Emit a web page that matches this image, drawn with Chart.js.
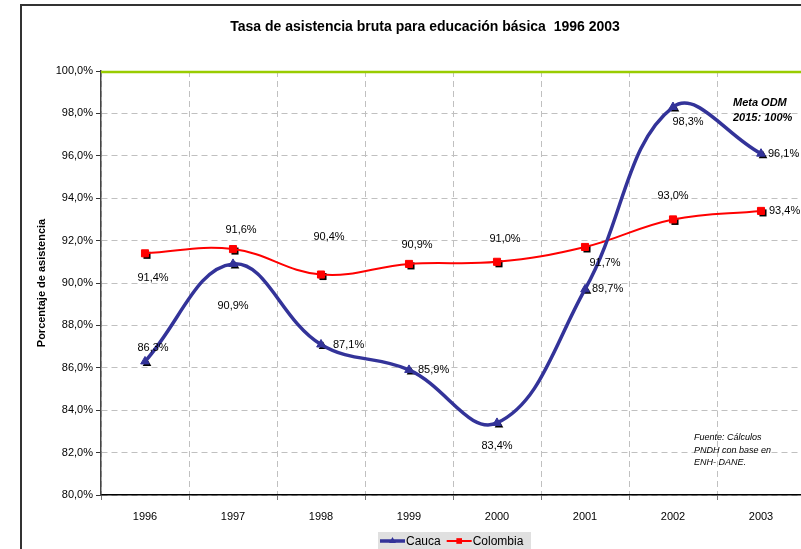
<!DOCTYPE html>
<html>
<head>
<meta charset="utf-8">
<script src="https://cdn.jsdelivr.net/npm/chart.js@4.4.0/dist/chart.umd.min.js"></script>
<style>
  html, body { margin: 0; padding: 0; overflow: hidden; background: #fff; }
</style>
</head>
<body>
<canvas id="asistencia" width="811" height="549"></canvas>
<script>
// datos
const years = ['1996', '1997', '1998', '1999', '2000', '2001', '2002', '2003'];
const cauca = [86.3, 90.9, 87.1, 85.9, 83.4, 89.7, 98.3, 96.1];
const colombia = [91.4, 91.6, 90.4, 90.9, 91.0, 91.7, 93.0, 93.4];
const yMin = 80;
const yMax = 100;
const yStep = 2;
const metaODM = 100;

const FONT = 'Arial, "Liberation Sans", sans-serif';
Chart.defaults.font.family = FONT;
Chart.defaults.font.size = 11;
Chart.defaults.color = '#000';

const fmt = v => v.toFixed(1).replace('.', ',') + '%';

// where each value label sits relative to its point: [dx, dy, align]
const labelSpots = {
  Cauca: [[8, -13, 'center'], [0, 42, 'center'], [12, 0, 'left'], [9, 0, 'left'],
          [0, 23, 'center'], [7, 0, 'left'], [15, 15, 'center'], [7, 0, 'left']],
  Colombia: [[8, 25, 'center'], [8, -19, 'center'], [8, -38, 'center'], [8, -19, 'center'],
             [8, -23, 'center'], [20, 16, 'center'], [0, -23, 'center'], [8, 0, 'left']]
};

function markerPath(ctx, style, x, y, r) {
  ctx.beginPath();
  if (style === 'triangle') {
    ctx.moveTo(x, y - r);
    ctx.lineTo(x + r * 0.866, y + r * 0.5);
    ctx.lineTo(x - r * 0.866, y + r * 0.5);
    ctx.closePath();
  } else {
    const s = r * Math.SQRT1_2;
    ctx.rect(x - s, y - s, 2 * s, 2 * s);
  }
}

const decor = {
  id: 'decor',
  beforeDraw(chart) {
    const ctx = chart.ctx;
    ctx.save();
    ctx.fillStyle = '#fff';
    ctx.fillRect(0, 0, chart.width, chart.height);
    // marco exterior
    ctx.strokeStyle = '#333';
    ctx.lineWidth = 2;
    ctx.beginPath();
    ctx.moveTo(21, chart.height);
    ctx.lineTo(21, 5);
    ctx.lineTo(chart.width, 5);
    ctx.stroke();
    // titulo
    ctx.fillStyle = '#000';
    ctx.font = 'bold 14px ' + FONT;
    ctx.textAlign = 'center';
    ctx.textBaseline = 'middle';
    ctx.fillText('Tasa de asistencia bruta para educación básica  1996 2003', 425, 27);
    ctx.restore();
  },
  beforeDatasetsDraw(chart) {
    // meta ODM line
    const ctx = chart.ctx;
    const y = chart.scales.y.getPixelForValue(metaODM) + 1;
    ctx.save();
    ctx.strokeStyle = '#99cc00';
    ctx.lineWidth = 2.5;
    ctx.beginPath();
    ctx.moveTo(chart.chartArea.left, y);
    ctx.lineTo(chart.chartArea.right, y);
    ctx.stroke();
    ctx.restore();
  },
  beforeDatasetDraw(chart, args) {
    // black marker shadows
    const ds = chart.data.datasets[args.index];
    const ctx = chart.ctx;
    ctx.save();
    ctx.fillStyle = '#000';
    args.meta.data.forEach(p => {
      markerPath(ctx, ds.pointStyle, p.x + 2, p.y + 2, ds.pointRadius);
      ctx.fill();
    });
    ctx.restore();
  },
  afterDatasetsDraw(chart) {
    const ctx = chart.ctx;
    ctx.save();
    ctx.fillStyle = '#000';
    ctx.font = '11px ' + FONT;
    ctx.textBaseline = 'middle';
    chart.data.datasets.forEach((ds, i) => {
      const spots = labelSpots[ds.label];
      chart.getDatasetMeta(i).data.forEach((p, j) => {
        const [dx, dy, align] = spots[j];
        ctx.textAlign = align;
        ctx.fillText(fmt(ds.data[j]), p.x + dx, p.y + dy);
      });
    });
    // notas
    ctx.textAlign = 'left';
    ctx.font = 'italic bold 11px ' + FONT;
    ctx.fillText('Meta ODM', 733, 103);
    ctx.fillText('2015: 100%', 733, 118);
    ctx.font = 'italic 9px ' + FONT;
    ctx.fillText('Fuente: Cálculos', 694, 437);
    ctx.fillText('PNDH con base en', 694, 450);
    ctx.fillText('ENH- DANE.', 694, 462);
    ctx.restore();
  },
  afterDraw(chart) {
    // leyenda
    const ctx = chart.ctx;
    ctx.save();
    ctx.fillStyle = '#e0e0e0';
    ctx.fillRect(378, 532, 153, 20);
    let x = 380;
    const y = 541;
    chart.data.datasets.forEach(ds => {
      ctx.strokeStyle = ds.borderColor;
      ctx.lineWidth = ds.borderWidth;
      ctx.beginPath();
      ctx.moveTo(x, y);
      ctx.lineTo(x + 25, y);
      ctx.stroke();
      ctx.fillStyle = ds.pointBackgroundColor;
      markerPath(ctx, ds.pointStyle, x + 12.5, y, 4);
      ctx.fill();
      ctx.fillStyle = '#000';
      ctx.font = '12px ' + FONT;
      ctx.textAlign = 'left';
      ctx.textBaseline = 'middle';
      ctx.fillText(ds.label, x + 26, y + 1);
      x += 26 + ctx.measureText(ds.label).width + 6;
    });
    ctx.restore();
  }
};

new Chart(document.getElementById('asistencia'), {
  type: 'line',
  data: {
    labels: years,
    datasets: [
      {
        label: 'Cauca',
        data: cauca,
        borderColor: '#333399',
        borderWidth: 3.5,
        tension: 0.4,
        pointStyle: 'triangle',
        pointRadius: 5,
        pointBackgroundColor: '#333399',
        pointBorderColor: '#333399',
        pointBorderWidth: 1
      },
      {
        label: 'Colombia',
        data: colombia,
        borderColor: '#ff0000',
        borderWidth: 2,
        tension: 0.4,
        pointStyle: 'rect',
        pointRadius: 5,
        pointBackgroundColor: '#ff0000',
        pointBorderColor: '#ff0000',
        pointBorderWidth: 1
      }
    ]
  },
  options: {
    responsive: false,
    animation: false,
    layout: { padding: { top: 71, left: 0, right: 0, bottom: 24 } },
    plugins: {
      legend: { display: false },
      title: { display: false },
      tooltip: { enabled: false }
    },
    scales: {
      x: {
        offset: true,
        grid: { offset: true, color: '#c0c0c0', tickColor: '#777', tickLength: 5 },
        border: { color: '#000', width: 1.5, dash: [6, 4] },
        ticks: { padding: 10, maxRotation: 0, color: '#000' },
        afterFit(scale) { scale.height = 30; }
      },
      y: {
        min: yMin,
        max: yMax,
        ticks: { stepSize: yStep, padding: 3, color: '#000', callback: v => fmt(v) },
        grid: { color: '#c0c0c0', tickColor: '#333', tickLength: 5 },
        border: { color: '#444', width: 1.5, dash: [6, 4] },
        title: {
          display: true,
          text: 'Porcentaje de asistencia',
          font: { weight: 'bold', size: 11 },
          padding: { top: 35, bottom: 0 }
        },
        afterFit(scale) { scale.width = 101; }
      }
    }
  },
  plugins: [decor]
});
</script>
</body>
</html>
